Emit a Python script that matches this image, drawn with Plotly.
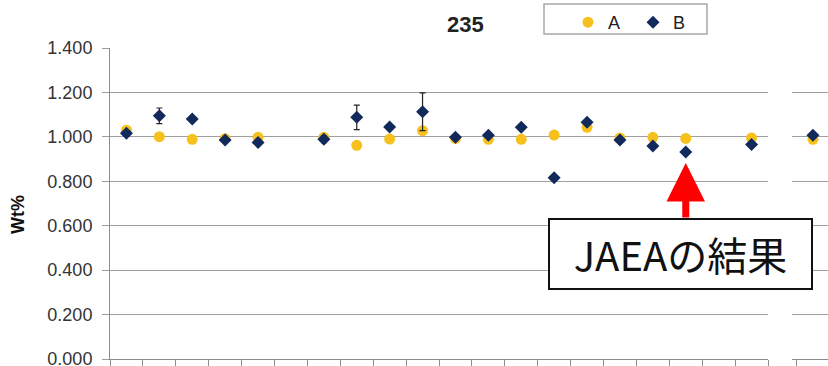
import plotly.graph_objects as go

# ---- data ----
categories = list(range(1, 21))
a_values = [1.030, 1.001, 0.989, 0.992, 0.998, None, 0.998, 0.962, 0.990, 1.028,
            0.993, 0.989, 0.989, 1.008, 1.043, 0.995, 0.998, 0.993, None, 0.995]
b_values = [1.016, 1.095, 1.080, 0.986, 0.975, None, 0.989, 1.088, 1.044, 1.113,
            0.998, 1.007, 1.043, 0.816, 1.066, 0.986, 0.959, 0.932, None, 0.966]
b_errors = [0, 0.035, 0, 0, 0, 0, 0.015, 0.055, 0, 0.085,
            0, 0, 0, 0, 0, 0, 0, 0, 0, 0]
next_categories = [1]
next_a = [0.989]
next_b = [1.007]
y_ticks = [0.0, 0.2, 0.4, 0.6, 0.8, 1.0, 1.2, 1.4]
y_tick_text = ["0.000", "0.200", "0.400", "0.600", "0.800", "1.000", "1.200", "1.400"]
title_text = "235"
y_title = "Wt%"
note_text = "JAEAの結果"
note_category = 18

COL_A = "#F6C11C"
COL_B = "#12295B"
GRID = "#9e9e9e"
W, H = 828, 366
L, R_, T, B = 110, 0, 48, 7
plot_w = W - L - R_
plot_h = H - T - B


def px_x(p):
    return (p - L) / plot_w


def px_y(p):
    return (H - B - p) / plot_h


xi = [c - 1 for c in categories]
xi2 = [c - 1 for c in next_categories]

fig = go.Figure()
fig.add_trace(go.Scatter(x=xi, y=a_values, mode="markers", name="A",
                         marker=dict(symbol="circle", size=11, color=COL_A),
                         xaxis="x", yaxis="y"))
fig.add_trace(go.Scatter(x=xi, y=b_values, mode="markers", name="B",
                         marker=dict(symbol="diamond", size=10, color=COL_B),
                         error_y=dict(type="data", array=b_errors, visible=True,
                                      color="#222222", thickness=1.2, width=3),
                         xaxis="x", yaxis="y"))
fig.add_trace(go.Scatter(x=xi2, y=next_a, mode="markers", showlegend=False,
                         marker=dict(symbol="circle", size=11, color=COL_A),
                         xaxis="x2", yaxis="y2"))
fig.add_trace(go.Scatter(x=xi2, y=next_b, mode="markers", showlegend=False,
                         marker=dict(symbol="diamond", size=10, color=COL_B),
                         xaxis="x2", yaxis="y2"))

n = len(categories)
d1_end = px_x(768)
d2_start = px_x(792)
cat_px = (768 - L) / n
x2_start = -0.5 - (796.5 - 792) / cat_px
x2_end = x2_start + (W - 792) / cat_px

axis_font = dict(family="Liberation Sans, Arial, sans-serif", size=18, color="#333333")

fig.update_layout(
    width=W, height=H,
    margin=dict(l=L, r=R_, t=T, b=B, autoexpand=False),
    paper_bgcolor="white", plot_bgcolor="white",
    showlegend=True,
    legend=dict(orientation="h", x=px_x(568), y=px_y(4), xanchor="left", yanchor="top",
                xref="paper", yref="paper",
                borderwidth=0, bgcolor="rgba(0,0,0,0)",
                font=dict(family="Liberation Sans, Arial, sans-serif", size=18, color="#222222"),
                entrywidth=20, tracegroupgap=0),
    xaxis=dict(domain=[0, d1_end], range=[-0.5, n - 0.5], showgrid=False, zeroline=False,
               showline=True, linecolor="#8c8c8c", linewidth=1,
               tickvals=[i - 0.5 for i in range(n + 1)], ticks="outside", ticklen=6,
               tickcolor="#8c8c8c", showticklabels=False, anchor="y"),
    yaxis=dict(domain=[0, 1], range=[0, 1.4], tickvals=y_ticks, ticktext=y_tick_text,
               showgrid=True, gridcolor=GRID, gridwidth=1.3, zeroline=False,
               showline=True, linecolor="#8c8c8c", linewidth=1,
               ticks="outside", ticklen=7, tickcolor=GRID, tickfont=axis_font,
               ticklabelstandoff=6, ticklabeloverflow="allow", anchor="x"),
    xaxis2=dict(domain=[d2_start, 1], range=[x2_start, x2_end], showgrid=False, zeroline=False,
                showline=True, linecolor="#8c8c8c", linewidth=1,
                tickvals=[-0.5, 0.5], ticks="outside", ticklen=6, tickcolor="#8c8c8c",
                showticklabels=False, anchor="y2"),
    yaxis2=dict(domain=[0, 1], range=[0, 1.4], tickvals=y_ticks, showgrid=True,
                gridcolor=GRID, gridwidth=1.3, zeroline=False, showline=False,
                showticklabels=False, anchor="x2"),
)

# legend frame
fig.add_shape(type="rect", xref="paper", yref="paper",
              x0=px_x(544), x1=px_x(707), y0=px_y(34), y1=px_y(4),
              line=dict(color="#a8a8a8", width=1.5), fillcolor="rgba(0,0,0,0)", layer="below")

# title
fig.add_annotation(text=f"<b>{title_text}</b>", xref="paper", yref="paper",
                   x=px_x(465), y=px_y(24), xanchor="center", yanchor="middle",
                   showarrow=False,
                   font=dict(family="Liberation Sans, Arial, sans-serif", size=22, color="#222222"))
# y axis title
fig.add_annotation(text=f"<b>{y_title}</b>", xref="paper", yref="paper",
                   x=px_x(18), y=px_y(215), xanchor="center", yanchor="middle",
                   showarrow=False, textangle=-90,
                   font=dict(family="Liberation Sans, Arial, sans-serif", size=18, color="#111111"))
# arrow
fig.add_annotation(x=note_category - 1, y=0.882, xref="x", yref="y", text="",
                   showarrow=True, ax=0, ay=56, axref="pixel", ayref="pixel",
                   arrowhead=2, arrowsize=1.1, arrowwidth=7, arrowcolor="#ff0000",
                   standoff=0)
# note box
fig.add_annotation(text=note_text, x=px_x(680.5), y=px_y(254), xref="paper", yref="paper",
                   showarrow=False, xanchor="center", yanchor="middle",
                   width=261, height=68, borderpad=0, borderwidth=2,
                   bordercolor="#111111", bgcolor="white",
                   font=dict(family="Noto Sans CJK JP, sans-serif", size=40, color="#111111"))

fig.write_html("out.html", config={"displayModeBar": False},
               post_script="document.body.style.margin='0';document.body.style.overflow='hidden';")
